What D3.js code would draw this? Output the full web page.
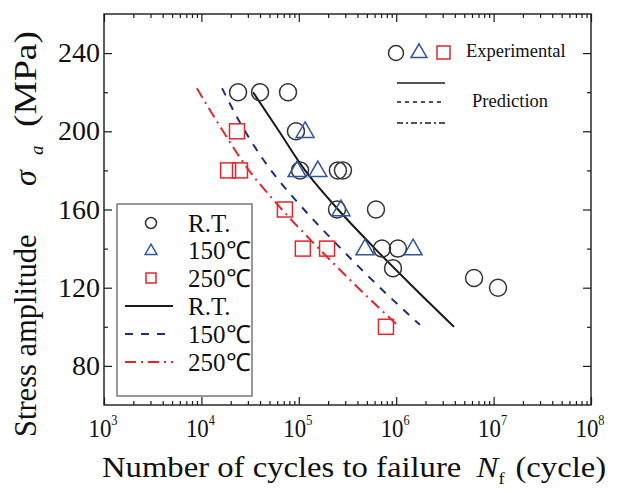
<!DOCTYPE html>
<html>
<head>
<meta charset="utf-8">
<script src="https://cdn.jsdelivr.net/npm/d3@7"></script>
<style>
  body { margin: 0; background: #fff; }
  text { font-family: "Liberation Serif", "Times New Roman", serif; fill: #111; }
</style>
</head>
<body>
<script>
// Experimental points: cycles to failure (N) and stress amplitude (MPa)
const rtN   = [2.38e4, 4.0e4, 7.75e4, 9.35e4, 1.03e5, 2.52e5, 2.84e5, 2.47e5, 6.2e5, 7.15e5, 1.04e6, 9.27e5, 6.3e6, 1.11e7];
const rtS   = [220, 220, 220, 200, 180, 180, 180, 160, 160, 140, 140, 130, 125, 120];
const t150N = [1.16e5, 9.6e4, 1.57e5, 2.71e5, 4.78e5, 1.49e6];
const t150S = [200, 180, 180, 160, 140, 140];
const t250N = [2.32e4, 1.88e4, 2.49e4, 7.2e4, 1.1e5, 1.95e5, 7.85e5];
const t250S = [200, 180, 180, 160, 140, 140, 100];

// Prediction curves
const predRtN  = [3.39e4, 6.27e4, 1.16e5, 2.53e5, 6.05e5, 1.52e6, 3.92e6];
const predRtS  = [220, 200, 180, 160, 140, 120, 100];
const pred150N = [1.63e4, 2.81e4, 5.19e4, 1.13e5, 2.71e5, 6.82e5, 1.75e6];
const pred150S = [222, 200, 180, 160, 140, 120, 101];
const pred250N = [9.0e3, 1.67e4, 3.08e4, 6.71e4, 1.61e5, 4.06e5, 1.02e6];
const pred250S = [222, 200, 180, 160, 140, 120, 101];

const xDecades = [3, 4, 5, 6, 7, 8];
const yMajor = [80, 120, 160, 200, 240];
const yMinor = [100, 140, 180, 220];
const legendLabels = ["R.T.", "150\u2103", "250\u2103"];

const black = "#1a1a1a", blue = "#2f55a4", navy = "#1c2f7e", red = "#e4262c";

function main() {
    const W = 620, H = 493;
    const left = 104, right = 591, top = 14, bottom = 405;

    const svg = d3.select("body").append("svg")
        .attr("width", W).attr("height", H);

    const x = d3.scaleLog().domain([1e3, 1e8]).range([left, right]);
    const y = d3.scaleLinear().domain([60, 260]).range([bottom, top]);

    // ticks (inward on all four sides)
    const majorX = xDecades.map(d => Math.pow(10, d));
    const minorX = [];
    xDecades.slice(0, -1).forEach(d => {
        for (let m = 2; m <= 9; m++) minorX.push(m * Math.pow(10, d));
    });

    function tickAxis(axis, tr) {
        const g = svg.append("g").attr("transform", tr).call(axis);
        g.select(".domain").remove();
        g.selectAll("line").attr("stroke", black).attr("stroke-width", 1.2);
        g.selectAll("text").remove();
    }
    tickAxis(d3.axisBottom(x).tickValues(majorX).tickSize(-8), `translate(0,${bottom})`);
    tickAxis(d3.axisBottom(x).tickValues(minorX).tickSize(-4), `translate(0,${bottom})`);
    tickAxis(d3.axisTop(x).tickValues(majorX).tickSize(-8), `translate(0,${top})`);
    tickAxis(d3.axisTop(x).tickValues(minorX).tickSize(-4), `translate(0,${top})`);
    tickAxis(d3.axisLeft(y).tickValues(yMajor).tickSize(-8), `translate(${left},0)`);
    tickAxis(d3.axisLeft(y).tickValues(yMinor).tickSize(-4), `translate(${left},0)`);
    tickAxis(d3.axisRight(y).tickValues(yMajor).tickSize(-8), `translate(${right},0)`);
    tickAxis(d3.axisRight(y).tickValues(yMinor).tickSize(-4), `translate(${right},0)`);

    // frame
    svg.append("rect")
        .attr("x", left).attr("y", top)
        .attr("width", right - left).attr("height", bottom - top)
        .attr("fill", "none").attr("stroke", black).attr("stroke-width", 1.4);

    // tick labels
    xDecades.forEach(d => {
        const t = svg.append("text")
            .attr("transform", `translate(${x(Math.pow(10, d)) - 1},437) scale(0.88,1)`)
            .attr("text-anchor", "middle")
            .attr("font-size", 26);
        t.append("tspan").text("10");
        t.append("tspan").attr("dy", -12).attr("font-size", 14).text(d);
    });
    yMajor.forEach(v => {
        svg.append("text")
            .attr("x", 100).attr("y", y(v) + 9)
            .attr("text-anchor", "end")
            .attr("font-size", 28)
            .text(v);
    });

    // x axis title
    const xt = svg.append("text")
        .attr("transform", "translate(102,477) scale(1.09,1)")
        .attr("font-size", 30);
    xt.append("tspan").text("Number of cycles to failure");
    xt.append("tspan").attr("dx", 14).attr("font-style", "italic").text("N");
    xt.append("tspan").attr("dy", 7).attr("font-size", 17).text("f");
    xt.append("tspan").attr("dy", -7).attr("dx", 10).text("(cycle)");

    // y axis title, pieces placed along the rotated baseline
    const yTitle = (yy, dx, size, italic, str, len) => {
        const t = svg.append("text")
            .attr("transform", `translate(${36 + dx},${yy}) rotate(-90)`)
            .attr("font-size", size)
            .attr("font-style", italic ? "italic" : "normal")
            .text(str);
        if (len) t.attr("textLength", len).attr("lengthAdjust", "spacingAndGlyphs");
    };
    yTitle(437, 0, 30.5, false, "Stress amplitude");
    yTitle(186, 0, 32, true, "\u03C3");
    yTitle(155, 7, 19, true, "a");
    yTitle(127, 0, 30.5, false, "(MPa)", 96);

    // prediction lines
    const line = d3.line().x(d => x(d[0])).y(d => y(d[1])).curve(d3.curveMonotoneY);
    const preds = [
        {n: predRtN, s: predRtS, color: black, dash: null},
        {n: pred150N, s: pred150S, color: navy, dash: "8,8"},
        {n: pred250N, s: pred250S, color: red, dash: "11,5,2,5"}
    ];
    preds.forEach(p => {
        svg.append("path")
            .datum(p.n.map((v, i) => [v, p.s[i]]))
            .attr("d", line)
            .attr("fill", "none")
            .attr("stroke", p.color)
            .attr("stroke-width", 2)
            .attr("stroke-dasharray", p.dash);
    });

    // markers
    const tri = size => d3.symbol().type(d3.symbolTriangle).size(size)();
    function circles(ns, ss, r) {
        svg.append("g").selectAll("circle")
            .data(ns.map((v, i) => [v, ss[i]]))
            .join("circle")
            .attr("cx", d => x(d[0])).attr("cy", d => y(d[1])).attr("r", r)
            .attr("fill", "none").attr("stroke", "#333").attr("stroke-width", 1.5);
    }
    function triangles(ns, ss, size) {
        svg.append("g").selectAll("path")
            .data(ns.map((v, i) => [v, ss[i]]))
            .join("path")
            .attr("d", tri(size))
            .attr("transform", d => `translate(${x(d[0])},${y(d[1]) + 1})`)
            .attr("fill", "none").attr("stroke", blue).attr("stroke-width", 1.5);
    }
    function squares(ns, ss, side) {
        svg.append("g").selectAll("rect")
            .data(ns.map((v, i) => [v, ss[i]]))
            .join("rect")
            .attr("x", d => x(d[0]) - side / 2).attr("y", d => y(d[1]) - side / 2)
            .attr("width", side).attr("height", side)
            .attr("fill", "none").attr("stroke", red).attr("stroke-width", 1.5);
    }
    circles(rtN, rtS, 8.5);
    triangles(t150N, t150S, 140);
    squares(t250N, t250S, 15);

    // left legend box
    svg.append("rect")
        .attr("x", 117).attr("y", 204).attr("width", 135).attr("height", 192)
        .attr("fill", "#fff").attr("stroke", "#555").attr("stroke-width", 1.2);
    const ly = [223, 250, 278, 306, 334, 362];
    svg.append("circle").attr("cx", 151).attr("cy", ly[0]).attr("r", 5.5)
        .attr("fill", "none").attr("stroke", "#333").attr("stroke-width", 1.5);
    svg.append("path").attr("d", tri(60)).attr("transform", `translate(151,${ly[1] + 1})`)
        .attr("fill", "none").attr("stroke", blue).attr("stroke-width", 1.5);
    svg.append("rect").attr("x", 146).attr("y", ly[2] - 5).attr("width", 10).attr("height", 10)
        .attr("fill", "none").attr("stroke", red).attr("stroke-width", 1.5);
    preds.forEach((p, i) => {
        svg.append("line")
            .attr("x1", 125).attr("x2", 173).attr("y1", ly[3 + i]).attr("y2", ly[3 + i])
            .attr("stroke", p.color).attr("stroke-width", 2)
            .attr("stroke-dasharray", p.dash);
    });
    ly.forEach((v, i) => {
        svg.append("text")
            .attr("x", 188).attr("y", v + 9)
            .attr("font-size", 25)
            .text(legendLabels[i % 3]);
    });

    // top-right legend
    svg.append("circle").attr("cx", 396).attr("cy", 53).attr("r", 7.5)
        .attr("fill", "none").attr("stroke", "#333").attr("stroke-width", 1.5);
    svg.append("path").attr("d", tri(110)).attr("transform", "translate(419,53)")
        .attr("fill", "none").attr("stroke", blue).attr("stroke-width", 1.5);
    svg.append("rect").attr("x", 437).attr("y", 46).attr("width", 13).attr("height", 13)
        .attr("fill", "none").attr("stroke", red).attr("stroke-width", 1.5);
    svg.append("text").attr("x", 466).attr("y", 57).attr("font-size", 18.5).text("Experimental");
    [null, "4,4", "6,3,2,3"].forEach((dash, i) => {
        svg.append("line")
            .attr("x1", 397).attr("x2", 445).attr("y1", [83, 102, 123][i]).attr("y2", [83, 102, 123][i])
            .attr("stroke", black).attr("stroke-width", 1.3)
            .attr("stroke-dasharray", dash);
    });
    svg.append("text").attr("x", 472).attr("y", 107).attr("font-size", 18.5).text("Prediction");
}

main();
</script>
</body>
</html>
